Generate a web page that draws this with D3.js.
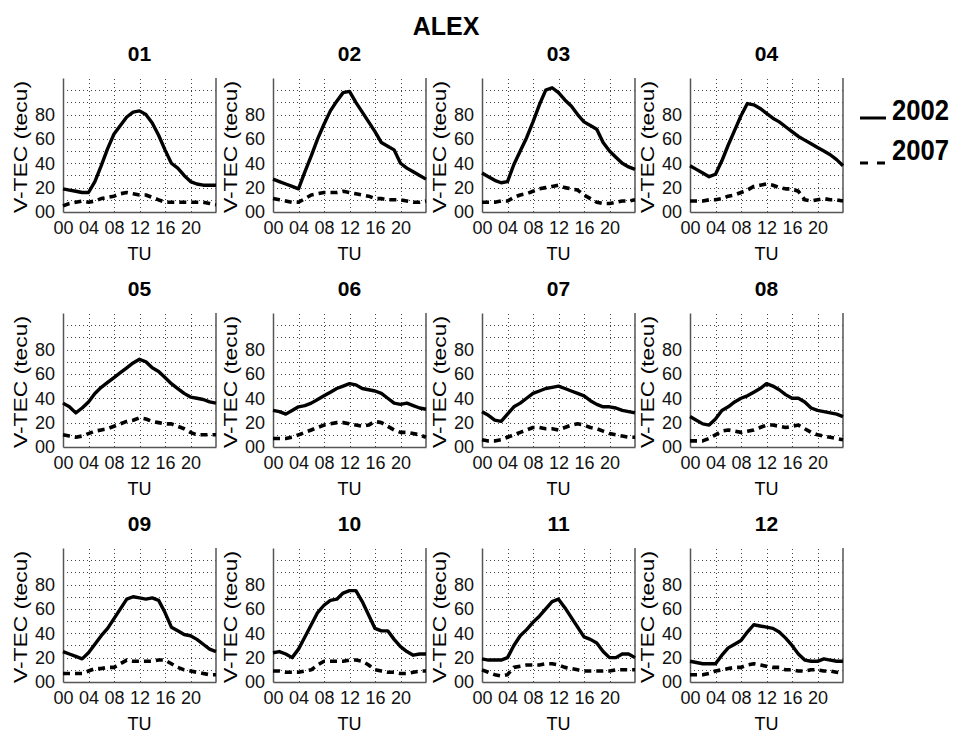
<!DOCTYPE html>
<html>
<head>
<meta charset="utf-8">
<script src="https://cdn.jsdelivr.net/npm/d3@7"></script>
<style>
  body { margin: 0; background: #fff; }
  svg { display: block; font-family: "Liberation Sans", Arial, sans-serif; }
</style>
</head>
<body>
<svg id="chart" width="959" height="739"></svg>
<script>
// Hourly vertical TEC (TECU), station ALEX, monthly mean diurnal curves
const hours = d3.range(0, 25);
const months = ["01", "02", "03", "04", "05", "06", "07", "08", "09", "10", "11", "12"];
const years = ["2002", "2007"];
const yTicks = [0, 20, 40, 60, 80];
const xTicks = [0, 4, 8, 12, 16, 20];

const tec2002_01 = [19, 18, 17, 16, 16, 25, 38, 52, 64, 71, 78, 82, 83, 80, 73, 63, 51, 40, 36, 30, 25, 23, 22, 22, 22];
const tec2007_01 = [5, 7, 8, 9, 8, 9, 11, 12, 13, 15, 16, 15, 14, 14, 12, 10, 8, 8, 8, 8, 8, 8, 8, 7, 6];
const tec2002_02 = [27, 25, 23, 21, 19, 33, 46, 60, 72, 83, 91, 98, 99, 90, 82, 74, 66, 57, 54, 51, 40, 36, 33, 30, 27];
const tec2007_02 = [11, 10, 9, 8, 8, 11, 14, 15, 16, 16, 16, 17, 16, 15, 14, 13, 11, 11, 10, 10, 10, 9, 8, 8, 9];
const tec2002_03 = [32, 29, 26, 24, 25, 39, 50, 61, 74, 88, 100, 102, 98, 92, 87, 80, 74, 71, 68, 57, 50, 45, 40, 37, 35];
const tec2007_03 = [8, 8, 8, 9, 9, 12, 14, 15, 17, 19, 20, 21, 22, 20, 19, 18, 14, 11, 8, 7, 7, 8, 9, 9, 10];
const tec2002_04 = [38, 35, 32, 29, 31, 42, 55, 67, 79, 89, 88, 85, 81, 77, 74, 70, 66, 62, 59, 56, 53, 50, 47, 43, 38];
const tec2007_04 = [9, 9, 9, 10, 10, 11, 13, 14, 16, 18, 21, 22, 23, 22, 20, 19, 19, 17, 10, 9, 10, 11, 10, 10, 9];
const tec2002_05 = [36, 33, 28, 32, 37, 44, 49, 53, 57, 61, 65, 69, 72, 70, 65, 62, 57, 52, 48, 44, 41, 40, 39, 37, 36];
const tec2007_05 = [10, 9, 8, 9, 11, 13, 14, 15, 17, 19, 21, 22, 24, 23, 21, 20, 19, 19, 17, 15, 12, 10, 10, 10, 10];
const tec2002_06 = [30, 29, 27, 30, 33, 34, 36, 39, 42, 45, 48, 50, 52, 51, 48, 47, 46, 44, 40, 36, 35, 36, 34, 32, 31];
const tec2007_06 = [7, 7, 7, 8, 10, 12, 14, 16, 18, 19, 20, 20, 19, 18, 17, 18, 21, 20, 17, 14, 12, 12, 11, 10, 8];
const tec2002_07 = [29, 26, 22, 21, 27, 33, 36, 40, 44, 46, 48, 49, 50, 48, 46, 44, 42, 38, 35, 33, 33, 32, 30, 29, 28];
const tec2007_07 = [6, 5, 5, 6, 8, 10, 12, 14, 16, 16, 15, 15, 14, 16, 18, 19, 18, 16, 15, 13, 11, 10, 9, 8, 8];
const tec2002_08 = [25, 22, 19, 18, 23, 30, 33, 37, 40, 42, 45, 48, 52, 50, 47, 43, 40, 40, 37, 32, 30, 29, 28, 27, 25];
const tec2007_08 = [5, 5, 5, 7, 10, 13, 14, 13, 12, 13, 14, 16, 18, 18, 17, 16, 17, 18, 15, 12, 10, 9, 8, 7, 6];
const tec2002_09 = [25, 23, 21, 19, 24, 31, 38, 44, 52, 60, 68, 70, 69, 68, 69, 67, 57, 45, 42, 39, 38, 35, 31, 27, 25];
const tec2007_09 = [7, 7, 7, 7, 9, 11, 11, 12, 12, 15, 18, 17, 17, 17, 17, 18, 18, 15, 12, 10, 9, 8, 7, 6, 6];
const tec2002_10 = [24, 25, 23, 20, 27, 37, 47, 57, 63, 67, 68, 73, 75, 75, 66, 55, 44, 42, 42, 35, 29, 25, 22, 23, 23];
const tec2007_10 = [9, 9, 8, 8, 8, 9, 10, 14, 17, 17, 17, 17, 18, 18, 17, 14, 10, 9, 8, 8, 7, 7, 8, 9, 9];
const tec2002_11 = [19, 18, 18, 18, 20, 30, 38, 43, 49, 54, 60, 66, 68, 61, 53, 45, 37, 35, 32, 25, 20, 20, 23, 23, 20];
const tec2007_11 = [10, 8, 6, 5, 6, 12, 13, 14, 14, 14, 15, 15, 14, 12, 11, 10, 9, 9, 9, 9, 9, 10, 10, 10, 10];
const tec2002_12 = [17, 16, 15, 15, 15, 22, 28, 31, 34, 41, 47, 46, 45, 44, 41, 36, 30, 23, 18, 17, 17, 19, 18, 17, 17];
const tec2007_12 = [6, 6, 6, 7, 9, 10, 11, 12, 12, 14, 15, 14, 13, 12, 12, 10, 10, 9, 9, 10, 10, 9, 9, 8, 7];

const series2002 = [tec2002_01, tec2002_02, tec2002_03, tec2002_04, tec2002_05, tec2002_06,
                    tec2002_07, tec2002_08, tec2002_09, tec2002_10, tec2002_11, tec2002_12];
const series2007 = [tec2007_01, tec2007_02, tec2007_03, tec2007_04, tec2007_05, tec2007_06,
                    tec2007_07, tec2007_08, tec2007_09, tec2007_10, tec2007_11, tec2007_12];

// ---- layout ----
const svg = d3.select("#chart");
const colLeft = [63, 273, 482, 690];
const rowBottom = [212, 447, 682];
const panelW = 153, panelH = 134;
const yMax = 110;

const styles = {
  "2002": { width: 3.4, dash: null },
  "2007": { width: 3.6, dash: "7,5" }
};

svg.append("text")
  .attr("x", 446).attr("y", 35)
  .attr("text-anchor", "middle")
  .attr("font-size", 25).attr("font-weight", "bold")
  .text("ALEX");

months.forEach((m, i) => {
  const left = colLeft[i % 4];
  const bottom = rowBottom[Math.floor(i / 4)];
  const top = bottom - panelH;
  const x = d3.scaleLinear().domain([0, 24]).range([left, left + panelW]);
  const y = d3.scaleLinear().domain([0, yMax]).range([bottom, top]);
  const g = svg.append("g");

  // dotted grid
  const grid = g.append("g")
    .attr("stroke", "#444").attr("stroke-width", 1).attr("stroke-dasharray", "1,3");
  grid.selectAll("line.h").data(d3.range(10, 101, 10)).join("line")
    .attr("class", "h")
    .attr("x1", x(0)).attr("x2", x(24))
    .attr("y1", d => Math.round(y(d)) + 0.5).attr("y2", d => Math.round(y(d)) + 0.5);
  grid.selectAll("line.v").data(xTicks.slice(1)).join("line")
    .attr("class", "v")
    .attr("y1", y(0)).attr("y2", y(yMax))
    .attr("x1", d => Math.round(x(d)) + 0.5).attr("x2", d => Math.round(x(d)) + 0.5);

  // axes
  const yAxis = d3.axisLeft(y).tickValues(yTicks).tickFormat(d3.format("02d"))
    .tickSizeInner(0).tickSizeOuter(0).tickPadding(8);
  const xAxis = d3.axisBottom(x).tickValues(xTicks).tickFormat(d3.format("02d"))
    .tickSizeInner(0).tickSizeOuter(0).tickPadding(9);

  const ya = g.append("g").attr("transform", `translate(${left},0)`).call(yAxis);
  const xa = g.append("g").attr("transform", `translate(0,${bottom})`).call(xAxis);
  [ya, xa].forEach(a => {
    a.select(".domain").attr("stroke", "#555").attr("stroke-width", 1.5);
    a.selectAll("text").attr("font-size", 18).attr("fill", "#111")
      .attr("font-family", "Liberation Sans, Arial, sans-serif");
  });
  g.append("line")
    .attr("x1", x(24)).attr("x2", x(24)).attr("y1", y(0)).attr("y2", y(yMax))
    .attr("stroke", "#555").attr("stroke-width", 1.5);

  // labels
  g.append("text")
    .attr("x", (x(0) + x(24)) / 2).attr("y", top - 17)
    .attr("text-anchor", "middle").attr("font-size", 21).attr("font-weight", "bold")
    .text(m);
  g.append("text")
    .attr("x", (x(0) + x(24)) / 2).attr("y", bottom + 48)
    .attr("text-anchor", "middle").attr("font-size", 18)
    .text("TU");
  g.append("text")
    .attr("transform", `translate(${left - 36},${(top + bottom) / 2 + 2}) rotate(-90)`)
    .attr("text-anchor", "middle").attr("font-size", 19)
    .attr("textLength", 132).attr("lengthAdjust", "spacingAndGlyphs")
    .text("V-TEC (tecu)");

  // curves
  const line = d3.line().x((d, k) => x(hours[k])).y(d => y(d));
  [[series2002[i], "2002"], [series2007[i], "2007"]].forEach(([vals, yr]) => {
    g.append("path")
      .datum(vals)
      .attr("d", line)
      .attr("fill", "none").attr("stroke", "#000")
      .attr("stroke-width", styles[yr].width)
      .attr("stroke-linejoin", "round")
      .attr("stroke-dasharray", styles[yr].dash);
  });
});

// legend
const legend = svg.append("g");
years.forEach((yr, k) => {
  const ly = 118 + k * 45;
  legend.append("line")
    .attr("x1", 860).attr("x2", 886).attr("y1", ly).attr("y2", ly)
    .attr("stroke", "#000").attr("stroke-width", 3)
    .attr("stroke-dasharray", styles[yr].dash ? "8,9" : null);
  legend.append("text")
    .attr("x", 892).attr("y", 120 + k * 40)
    .attr("font-size", 29).attr("font-weight", "bold")
    .attr("textLength", 57).attr("lengthAdjust", "spacingAndGlyphs")
    .text(yr);
});
</script>
</body>
</html>
